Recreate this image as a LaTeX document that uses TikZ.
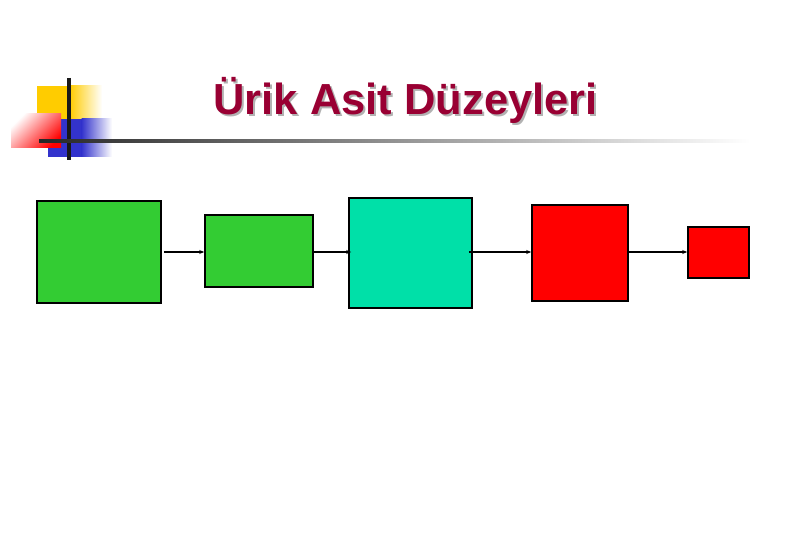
\documentclass[tikz,border=0pt]{standalone}
\usepackage{fontspec}
\setmainfont{Liberation Sans}
\usetikzlibrary{arrows.meta}
\definecolor{titlered}{HTML}{990033}
\definecolor{boxgreen}{HTML}{33CC33}
\definecolor{boxteal}{HTML}{00E0A8}
\definecolor{boxred}{HTML}{FF0000}
\definecolor{logoyellow}{HTML}{FFCC00}
\definecolor{logoblue}{HTML}{3333CC}
\tikzset{
  box/.style={draw=black, line width=1.6pt, inner sep=0pt},
  conn/.style={draw=black, line width=1.2pt, -{Stealth[length=5pt,width=4pt]}},
  titletext/.style={anchor=base west, font=\bfseries\fontsize{43.5}{50}\selectfont},
}
\begin{document}
\begin{tikzpicture}[x=1pt,y=-1pt]
\useasboundingbox (0,0) rectangle (810,540);
\fill[white] (0,0) rectangle (810,540);
% logo
\fill[logoyellow] (37,86) rectangle (70,119);
\shade[left color=logoyellow,right color=white] (69.5,86) rectangle (102,119);
\fill[logoblue] (48,119) rectangle (82,157);
\shade[left color=logoblue,right color=white] (81.5,119) rectangle (112,157);
\shade[left color=white, right color=red, shading angle=45] (11,114) rectangle (61,148);
\draw[line width=3.5pt,black!90] (69,78) -- (69,160);
\shade[left color=black!85, right color=white] (39,139.5) rectangle (750,142.5);
% title
\node[titletext, text=black!30] (titleshadow) at (212,117) {Ürik Asit Düzeyleri};
\node[titletext, text=titlered] (title) at (210,115) {Ürik Asit Düzeyleri};
% boxes
\node[box, fill=boxgreen, minimum width=124, minimum height=102] (b1) at (99,252) {};
\node[box, fill=boxgreen, minimum width=108, minimum height=72] (b2) at (259,251) {};
\node[box, fill=boxteal, minimum width=123, minimum height=110] (b3) at (410.5,253) {};
\node[box, fill=boxred, minimum width=96, minimum height=96] (b4) at (580,253) {};
\node[box, fill=boxred, minimum width=61, minimum height=51] (b5) at (718.5,252.5) {};
% connectors
\draw[conn] ([xshift=2pt]b1.east |- 0,252) -- (b2.west |- 0,252);
\draw[conn] (b2.east |- 0,252) -- ([xshift=3pt]b3.west |- 0,252);
\draw[conn] ([xshift=-4pt]b3.east |- 0,252) -- (b4.west |- 0,252);
\draw[conn] (b4.east |- 0,252) -- (b5.west |- 0,252);
\end{tikzpicture}
\end{document}
